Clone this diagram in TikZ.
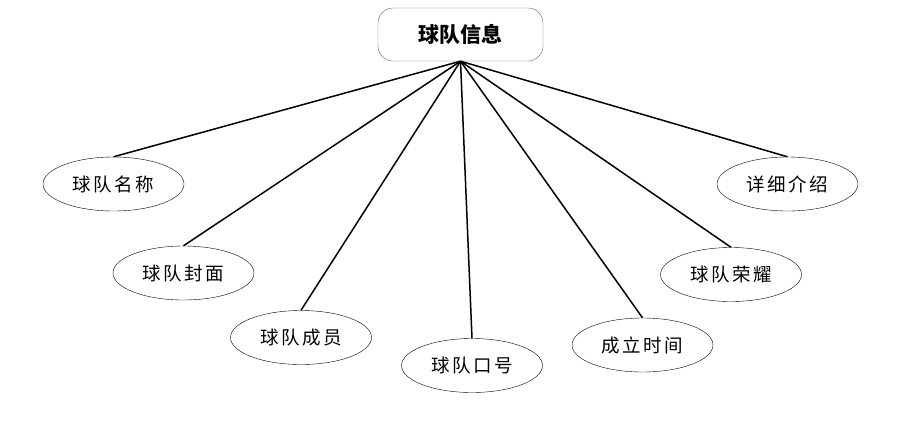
\documentclass[tikz,border=0pt]{standalone}
\usepackage{fontspec}
\setmainfont{Noto Sans CJK SC}
\newfontfamily\cjkwide[LetterSpace=14]{Noto Sans CJK SC}
\usetikzlibrary{shapes.geometric}

\begin{document}
\begin{tikzpicture}[x=1pt,y=-1pt]
        \useasboundingbox (0,0) rectangle (910,424);
        \begin{scope}[every node/.style={rectangle,rounded corners=15pt,draw=black!60,thin,minimum width=165pt,minimum height=53pt,font=\fontsize{21}{24}\selectfont\bfseries}]
            \node (info) at (460.5, 34.5) {球队信息};
        \end{scope}
        \begin{scope}[every node/.style={ellipse,draw,thin,inner sep=0pt,minimum width=141pt,minimum height=54pt,font=\fontsize{18.5}{21}\selectfont\cjkwide}]
            \node (name) at (113.5, 184) {球队名称};
            \node (cover) at (183.5, 273) {球队封面};
            \node (members) at (301, 337.5) {球队成员};
            \node (slogan) at (472, 365.5) {球队口号};
            \node (founded) at (642.5, 345) {成立时间};
            \node (honor) at (731, 274.5) {球队荣耀};
            \node (intro) at (787.5, 184) {详细介绍};
        \end{scope}

        \begin{scope}[every edge/.style={draw=black,line width=1.5pt}]
            \path (info.south) edge (name.north);
            \path (info.south) edge (cover.north);
            \path (info.south) edge (members.north);
            \path (info.south) edge (slogan.north);
            \path (info.south) edge (founded.north);
            \path (info.south) edge (honor.north);
            \path (info.south) edge (intro.north);
        \end{scope}
    \end{tikzpicture}
\end{document}
